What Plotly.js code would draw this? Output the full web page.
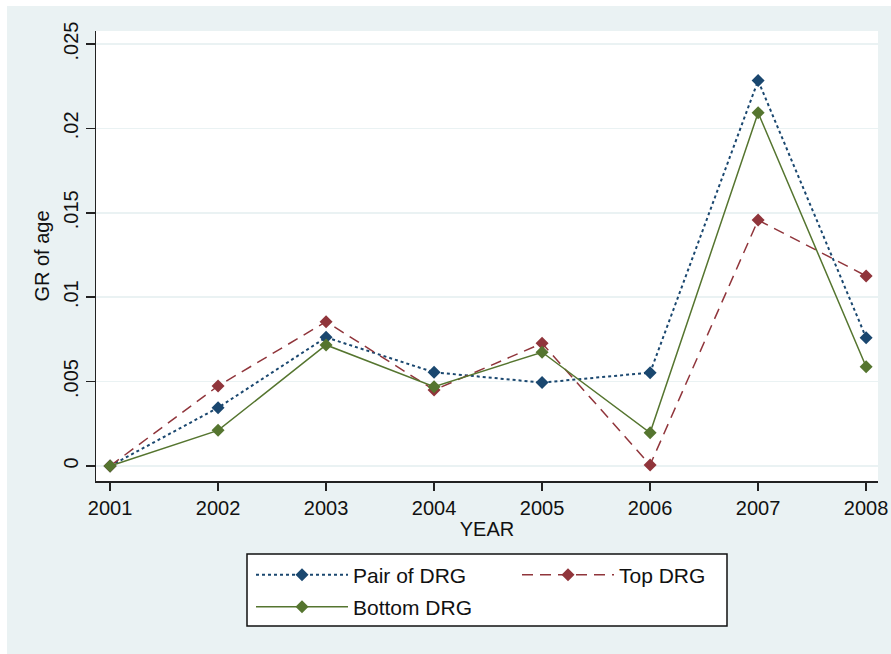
<!DOCTYPE html>
<html>
<head>
<meta charset="utf-8">
<script src="https://cdn.plot.ly/plotly-3.0.1.min.js"></script>
<style>html,body{margin:0;padding:0;background:#ffffff;}</style>
</head>
<body>
<div id="chart" style="width:891px;height:654px;"></div>
<script>
// ---- data ----
const years = [2001, 2002, 2003, 2004, 2005, 2006, 2007, 2008];
const pairDRG   = [0, 0.00345, 0.00762, 0.00555, 0.00494, 0.00553, 0.02283, 0.00760];
const topDRG    = [0, 0.00474, 0.00855, 0.00450, 0.00727, 0.00006, 0.01457, 0.01126];
const bottomDRG = [0, 0.00211, 0.00717, 0.00470, 0.00674, 0.00197, 0.02093, 0.00588];
const seriesNames = ['Pair of DRG', 'Top DRG', 'Bottom DRG'];
const yTickVals = [0, 0.005, 0.01, 0.015, 0.02, 0.025];
const yTickText = ['0', '.005', '.01', '.015', '.02', '.025'];
const xTickVals = years;
const xTickText = years.map(String);

// ---- geometry helpers (pixel -> paper) ----
const W = 891, H = 654;
const mL = 96, mR = 13, mT = 31, mB = 173;
const pw = W - mL - mR, ph = H - mT - mB;
const px = x => (x - mL) / pw;
const py = y => (H - mB - y) / ph;

const FONT = 'Arial, "Liberation Sans", sans-serif';
const bgLight = '#eaf2f3';

const traces = [
  {x: years, y: pairDRG, name: seriesNames[0], type: 'scatter', mode: 'lines+markers',
   line: {color: '#1a476f', width: 2, dash: 'dot'},
   marker: {symbol: 'diamond', size: 10, color: '#1a476f'}, legend: 'legend'},
  {x: years, y: topDRG, name: seriesNames[1], type: 'scatter', mode: 'lines+markers',
   line: {color: '#90353b', width: 1.5, dash: '11px,7px'},
   marker: {symbol: 'diamond', size: 10, color: '#90353b'}, legend: 'legend2'},
  {x: years, y: bottomDRG, name: seriesNames[2], type: 'scatter', mode: 'lines+markers',
   line: {color: '#55752f', width: 1.5},
   marker: {symbol: 'diamond', size: 10, color: '#55752f'}, legend: 'legend3'}
];

const legendBase = {
  xanchor: 'left', yanchor: 'middle', bgcolor: 'rgba(0,0,0,0)', borderwidth: 0,
  itemwidth: 92, font: {family: FONT, size: 21, color: '#111'}, tracegroupgap: 0
};

const layout = {
  width: W, height: H,
  margin: {l: mL, r: mR, t: mT, b: mB, pad: 0},
  paper_bgcolor: '#ffffff',
  plot_bgcolor: '#ffffff',
  font: {family: FONT, size: 20, color: '#111'},
  showlegend: true,
  xaxis: {
    range: [2000.87, 2008.11],
    tickmode: 'array', tickvals: xTickVals, ticktext: xTickText,
    ticks: 'outside', ticklen: 8, tickwidth: 1.5, tickcolor: '#222',
    showline: true, linecolor: '#222', linewidth: 1.5,
    showgrid: false, zeroline: false,
    tickfont: {family: FONT, size: 20, color: '#111'},
    title: {text: 'YEAR', font: {family: FONT, size: 20, color: '#111'}, standoff: 4},
    automargin: false
  },
  yaxis: {
    range: [-0.00089, 0.02577],
    tickmode: 'array', tickvals: yTickVals, ticktext: yTickText,
    tickangle: -90,
    ticks: 'outside', ticklen: 9, tickwidth: 1.5, tickcolor: '#222',
    showline: true, linecolor: '#222', linewidth: 1.5,
    showgrid: true, gridcolor: bgLight, gridwidth: 1.5,
    zeroline: false,
    tickfont: {family: FONT, size: 20, color: '#111'},
    title: {text: 'GR of age', font: {family: FONT, size: 20, color: '#111'}, standoff: 4},
    automargin: false
  },
  legend:  Object.assign({}, legendBase, {x: px(251), y: py(575)}),
  legend2: Object.assign({}, legendBase, {x: px(517), y: py(575)}),
  legend3: Object.assign({}, legendBase, {x: px(251), y: py(607)}),
  shapes: [
    {type: 'rect', xref: 'paper', yref: 'paper', layer: 'below',
     x0: px(7), x1: px(891), y0: py(654), y1: py(6),
     fillcolor: bgLight, line: {width: 0}},
    {type: 'rect', xref: 'paper', yref: 'paper', layer: 'below',
     x0: 0, x1: 1, y0: 0, y1: 1,
     fillcolor: '#ffffff', line: {width: 0}},
    {type: 'rect', xref: 'paper', yref: 'paper', layer: 'below',
     x0: px(247), x1: px(727), y0: py(626), y1: py(554),
     fillcolor: '#ffffff', line: {color: '#111', width: 1.5}}
  ]
};

Plotly.newPlot('chart', traces, layout, {displayModeBar: false, staticPlot: true});
</script>
</body>
</html>
